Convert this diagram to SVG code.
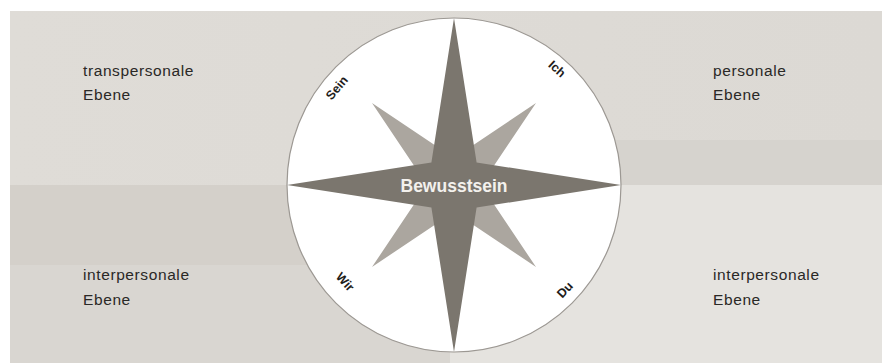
<svg xmlns="http://www.w3.org/2000/svg" width="882" height="363" viewBox="0 0 882 363">
<style>
.lbl{font-family:"Liberation Sans",Arial,sans-serif;font-size:15.5px;fill:#2a2826;letter-spacing:0.6px}
.cl{font-family:"Liberation Sans",Arial,sans-serif;font-size:12.5px;font-weight:bold;fill:#1e1c1a;text-anchor:middle;dominant-baseline:central}
.dark{fill:#7b766e}
.light{fill:#aba69f}
</style>
<defs>
<linearGradient id="bgTop" x1="0" y1="0" x2="1" y2="0">
<stop offset="0" stop-color="#dfdcd7"/>
<stop offset="1" stop-color="#dcd9d4"/>
</linearGradient>
</defs>
<rect width="882" height="363" fill="#ffffff"/>
<g id="background">
<rect x="10" y="11" width="872" height="352" fill="url(#bgTop)"/>
<rect x="10" y="185" width="440" height="80" fill="#d4d0ca"/>
<rect x="10" y="265" width="440" height="98" fill="#d9d6d1"/>
<rect x="450" y="185" width="432" height="178" fill="#e5e3df"/>
<rect x="450" y="140" width="432" height="45" fill="#d6d3ce"/>
</g>
<g id="compass">
<circle cx="454" cy="185" r="167" fill="#ffffff" stroke="#9c9893" stroke-width="1.2"/>
<polygon class="light" points="372,103 454,158 536,103 481,185 536,267 454,212 372,267 427,185"/>
<polygon class="dark" points="454,18 476.6,162.4 621,185 476.6,207.6 454,352 431.4,207.6 287,185 431.4,162.4"/>
</g>
<g id="center-label">
<text x="454" y="192" font-family="'Liberation Sans',Arial,sans-serif" font-size="17.5" font-weight="bold" fill="#f3f1ed" text-anchor="middle">Bewusstsein</text>
</g>
<g id="label-sein"><text class="cl" transform="translate(337,88) rotate(-50)">Sein</text></g>
<g id="label-ich"><text class="cl" transform="translate(557,69) rotate(42)">Ich</text></g>
<g id="label-wir"><text class="cl" transform="translate(345,282) rotate(48)">Wir</text></g>
<g id="label-du"><text class="cl" transform="translate(565,290) rotate(-47)">Du</text></g>
<g id="transpersonal">
<text class="lbl" x="83" y="76">transpersonale</text>
<text class="lbl" x="83" y="100">Ebene</text>
</g>
<g id="personal">
<text class="lbl" x="713" y="76">personale</text>
<text class="lbl" x="713" y="100">Ebene</text>
</g>
<g id="interpersonal-left">
<text class="lbl" x="83" y="280">interpersonale</text>
<text class="lbl" x="83" y="305">Ebene</text>
</g>
<g id="interpersonal-right">
<text class="lbl" x="713" y="280">interpersonale</text>
<text class="lbl" x="713" y="305">Ebene</text>
</g>
</svg>
